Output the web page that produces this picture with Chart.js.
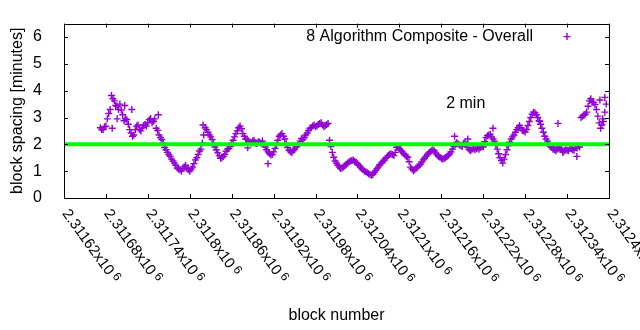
<!DOCTYPE html>
<html><head><meta charset="utf-8">
<script src="https://cdn.jsdelivr.net/npm/chart.js@4.4.1/dist/chart.umd.min.js"></script>
<style>html,body{margin:0;padding:0;background:#fff}#wrap{width:640px;height:330px}</style>
</head><body><div id="wrap"><canvas id="c" width="640" height="330"></canvas></div>
<script>
const seriesName = '8 Algorithm Composite - Overall';
const xTitle = 'block number';
const yTitle = 'block spacing [minutes]';
const firstBlock = 2311672;
const blockStep = 4;
// spacing for blocks firstBlock + 4*i
const spacingMinutes = [
2.62,2.55,2.68,3.15,3.82,3.62,3.42,3.50,3.10,2.95,
2.75,2.42,2.35,2.68,2.55,2.62,2.74,2.82,2.96,2.86,
2.60,2.35,2.18,1.88,1.70,1.55,1.38,1.22,1.08,1.00,
1.16,1.10,1.00,1.15,1.42,1.62,1.82,2.35,2.55,2.35,
2.18,1.90,1.68,1.48,1.55,1.74,1.85,2.05,2.28,2.50,
2.68,2.40,2.20,2.12,2.05,2.15,2.02,2.08,2.12,1.90,
1.72,1.60,1.72,1.98,2.30,2.40,2.20,1.88,1.72,1.76,
1.90,2.00,2.22,2.25,2.42,2.60,2.68,2.66,2.74,2.80,
2.66,2.74,2.15,1.70,1.38,1.22,1.10,1.16,1.26,1.35,
1.40,1.36,1.28,1.15,1.05,0.98,0.90,0.85,0.95,1.10,
1.24,1.34,1.47,1.58,1.65,1.58,1.88,1.84,1.72,1.60,
1.52,1.15,1.02,1.12,1.20,1.34,1.48,1.62,1.72,1.80,
1.68,1.55,1.48,1.47,1.55,1.64,1.82,2.00,2.02,1.95,
2.04,1.98,1.80,1.82,1.80,1.86,1.88,1.90,2.25,2.35,
2.28,2.12,1.82,1.50,1.30,1.62,1.95,2.20,2.35,2.55,
2.70,2.52,2.46,2.70,3.00,3.20,3.10,2.88,2.60,2.30,
2.12,1.92,1.82,1.76,1.90,1.80,1.76,1.78,1.85,1.80,
1.88,1.95,3.00,3.08,3.20,3.62,3.58,3.48,3.05,2.60,
2.85,3.50
];
// spacing for the blocks in between: firstBlock + 2 + 4*i
const spacingMinutesMid = [
2.55,2.66,2.95,3.30,3.70,3.45,3.30,3.28,2.88,2.92,
2.55,2.30,2.55,2.72,2.50,2.70,2.68,2.92,2.80,2.95,
2.52,2.25,2.05,1.80,1.62,1.45,1.30,1.12,1.05,1.10,
1.22,1.05,1.08,1.28,1.50,1.75,2.05,2.62,2.45,2.28,
2.02,1.80,1.58,1.50,1.62,1.82,1.92,2.15,2.40,2.62,
2.58,2.30,2.18,2.08,2.12,2.05,2.10,2.04,2.00,1.80,
1.66,1.62,1.85,2.15,2.35,2.30,2.02,1.78,1.70,1.82,
1.95,2.12,2.18,2.35,2.52,2.62,2.72,2.68,2.78,2.72,
2.70,2.78,1.92,1.52,1.30,1.15,1.12,1.20,1.30,1.38,
1.42,1.32,1.22,1.10,1.00,0.94,0.88,0.88,1.02,1.16,
1.30,1.40,1.52,1.62,1.62,1.70,1.90,1.78,1.66,1.55,
1.35,1.08,1.05,1.16,1.26,1.42,1.55,1.68,1.76,1.75,
1.60,1.52,1.45,1.50,1.60,1.72,1.92,2.06,1.98,1.92,
2.08,1.88,1.76,1.86,1.84,1.82,1.92,2.10,2.32,2.38,
2.20,1.98,1.65,1.40,1.45,1.80,2.08,2.28,2.45,2.62,
2.62,2.50,2.55,2.85,3.12,3.18,3.00,2.75,2.45,2.20,
2.00,1.88,1.80,1.82,1.86,1.74,1.80,1.76,1.84,1.78,
1.86,1.90,3.05,3.12,3.42,3.70,3.55,3.30,2.80,2.72,
3.20
];
const extraBlocks  = [2311912, 2311696, 2311689, 2311707, 2312387, 2312394, 2312391, 2312234, 2312334, 2312354, 2312198, 2312179, 2312301, 2312327, 2311717, 2311755, 2311819, 2311883];
const extraMinutes = [1.28,    2.95,    2.60,    3.45,    3.65,    3.75,    2.95,    2.60,    1.70,    1.55,    2.20,    2.30,    2.85,    2.78,    3.30,    3.10,    2.72,    1.87];
const xTickValues = [2311620, 2311680, 2311740, 2311800, 2311860, 2311920, 2311980, 2312040, 2312100, 2312160, 2312220, 2312280, 2312340, 2312400];
const xTickLabels = ['2.31162','2.31168','2.31174','2.3118','2.31186','2.31192','2.31198','2.31204','2.3121','2.31216','2.31222','2.31228','2.31234','2.3124'];
const xTickExponent = '6';
const yTickValues = [0, 1, 2, 3, 4, 5, 6];
const targetLevel = 2;
const targetLabel = '2 min';
const targetLabelBlock = 2312167;
const targetLabelValue = 3.5;

const PURPLE = '#9400d3';
const FONT = "'Liberation Sans', Arial, sans-serif";

const scatterData = spacingMinutes.map((v, i) => ({x: firstBlock + i * blockStep, y: v}))
  .concat(spacingMinutesMid.map((v, i) => ({x: firstBlock + blockStep / 2 + i * blockStep, y: v})))
  .concat(extraBlocks.map((b, i) => ({x: b, y: extraMinutes[i]})));
const targetData = [{x: xTickValues[0], y: targetLevel}, {x: xTickValues[xTickValues.length - 1], y: targetLevel}];

const framePlugin = {
  id: 'frame',
  afterDraw(chart) {
    const {ctx, chartArea: a, scales: {x, y}} = chart;
    ctx.save();
    ctx.strokeStyle = '#000';
    ctx.lineWidth = 1;
    ctx.beginPath();
    const T = 4;
    yTickValues.forEach(v => {
      const py = Math.round(y.getPixelForValue(v)) + 0.5;
      ctx.moveTo(a.left, py); ctx.lineTo(a.left + T, py);
      ctx.moveTo(a.right, py); ctx.lineTo(a.right - T, py);
    });
    xTickValues.forEach(v => {
      const px = Math.round(x.getPixelForValue(v)) + 0.5;
      ctx.moveTo(px, a.bottom); ctx.lineTo(px, a.bottom - T);
      ctx.moveTo(px, a.top); ctx.lineTo(px, a.top + T);
    });
    ctx.stroke();
    ctx.strokeRect(Math.round(a.left) + 0.5, Math.round(a.top) + 0.5, Math.round(a.right - a.left), Math.round(a.bottom - a.top));

    // rotated x tick labels
    ctx.fillStyle = '#000';
    const ang = 54 * Math.PI / 180;
    xTickValues.forEach((v, i) => {
      const px = x.getPixelForValue(v);
      ctx.save();
      ctx.translate(px + 1, a.bottom + 13);
      ctx.rotate(ang);
      ctx.textAlign = 'left';
      ctx.textBaseline = 'middle';
      ctx.font = '15px ' + FONT;
      const main = xTickLabels[i] + 'x10';
      ctx.fillText(main, 0, 0);
      const w = ctx.measureText(main).width;
      ctx.font = '12px ' + FONT;
      ctx.fillText(xTickExponent, w + 3, -3);
      ctx.restore();
    });

    // target label
    ctx.font = '16px ' + FONT;
    ctx.textAlign = 'left';
    ctx.textBaseline = 'middle';
    ctx.fillText(targetLabel, x.getPixelForValue(targetLabelBlock), y.getPixelForValue(targetLabelValue));

    // legend
    ctx.textAlign = 'right';
    ctx.fillText(seriesName, a.right - 76, a.top + 13);
    ctx.strokeStyle = PURPLE;
    ctx.lineWidth = 1.4;
    const mx = a.right - 42, my = a.top + 13;
    ctx.beginPath();
    ctx.moveTo(mx - 3.5, my); ctx.lineTo(mx + 3.5, my);
    ctx.moveTo(mx, my - 3.5); ctx.lineTo(mx, my + 3.5);
    ctx.stroke();
    ctx.restore();
  }
};

new Chart(document.getElementById('c'), {
  type: 'scatter',
  data: {
    datasets: [
      {
        type: 'line', label: targetLabel, data: targetData, order: 0,
        borderColor: '#00ff00', borderWidth: 4, pointRadius: 0, fill: false
      },
      {
        label: seriesName, data: scatterData, order: 1,
        pointStyle: 'cross', pointRadius: 3.5, pointBorderWidth: 1.4,
        borderColor: PURPLE, backgroundColor: PURPLE, pointBorderColor: PURPLE
      }
    ]
  },
  options: {
    responsive: false, animation: false, devicePixelRatio: 1,
    layout: {padding: {top: 19, right: 31, left: 0, bottom: 0}},
    plugins: {legend: {display: false}, tooltip: {enabled: false}},
    scales: {
      x: {
        type: 'linear', min: xTickValues[0], max: xTickValues[xTickValues.length - 1],
        ticks: {display: false, stepSize: 60},
        grid: {display: false}, border: {display: false},
        title: {display: true, text: xTitle, color: '#000', font: {size: 16, family: FONT}, padding: {bottom: 5, top: 0}},
        afterFit(s) { s.height = 132; }
      },
      y: {
        min: 0, max: 6.5,
        ticks: {stepSize: 1, includeBounds: false, color: '#000', padding: 14, font: {size: 16, family: FONT}},
        grid: {display: false}, border: {display: false},
        title: {display: true, text: yTitle, color: '#000', font: {size: 16, family: FONT}, padding: {top: 8, bottom: 0}},
        afterFit(s) { s.width = 64; }
      }
    }
  },
  plugins: [framePlugin]
});
</script>
</body></html>
